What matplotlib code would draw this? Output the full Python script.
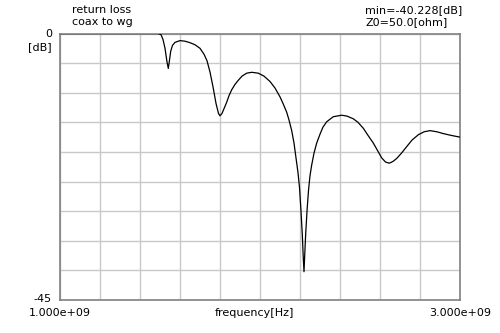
import matplotlib
matplotlib.use('Agg')
import matplotlib.pyplot as plt
import numpy as np

# Return loss data (frequency in GHz, value in dB)
freq_ghz = [1.000, 1.200, 1.400, 1.490, 1.505, 1.515, 1.525, 1.535, 1.5415, 1.5475,
            1.5535, 1.5625, 1.575, 1.600, 1.625, 1.650, 1.675, 1.700, 1.720, 1.735,
            1.750, 1.765, 1.780, 1.7925, 1.800, 1.810, 1.820, 1.8335, 1.845, 1.8585,
            1.875, 1.8915, 1.910, 1.9335, 1.9585, 1.9915, 2.020, 2.050, 2.075, 2.100,
            2.115, 2.1335, 2.145, 2.1585, 2.170, 2.180, 2.190, 2.1975, 2.205, 2.2115,
            2.2165, 2.220, 2.2235, 2.2285, 2.235, 2.2425, 2.250, 2.2585, 2.270, 2.2835,
            2.300, 2.315, 2.3335, 2.3665, 2.4085, 2.435, 2.4665, 2.490, 2.5165, 2.540,
            2.5665, 2.590, 2.6085, 2.6275, 2.6465, 2.665, 2.6835, 2.7075, 2.7335, 2.760,
            2.7915, 2.820, 2.850, 2.885, 2.9165, 2.955, 3.000]
rl_db = [0.0, 0.0, 0.0, 0.0, -0.2, -1.0, -2.5, -4.8, -5.9, -4.5,
         -3.0, -2.0, -1.5, -1.2, -1.3, -1.55, -1.9, -2.5, -3.5, -4.6,
         -6.5, -9.0, -11.8, -13.5, -13.9, -13.5, -12.7, -11.6, -10.5, -9.5,
         -8.6, -7.9, -7.2, -6.7, -6.55, -6.7, -7.2, -8.1, -9.2, -10.7,
         -11.8, -13.3, -14.6, -16.4, -18.5, -21.0, -23.5, -26.0, -30.0, -34.0,
         -38.0, -40.228, -37.5, -33.8, -30.0, -26.5, -24.0, -22.2, -20.2, -18.5,
         -17.0, -15.8, -14.9, -14.05, -13.8, -13.95, -14.4, -15.0, -16.0, -17.2,
         -18.5, -19.9, -21.0, -21.7, -21.9, -21.6, -21.1, -20.2, -19.1, -18.0,
         -17.1, -16.6, -16.4, -16.6, -16.9, -17.2, -17.5]

freq_hz = np.array(freq_ghz) * 1e9

W, H = 500, 333
fig = plt.figure(figsize=(W / 100, H / 100), dpi=100)
ax = fig.add_axes([60 / W, 1 - 300 / H, 400 / W, 266.5 / H])

ax.plot(freq_hz, rl_db, color='black', lw=0.9, zorder=3)

ax.set_xlim(1e9, 3e9)
ax.set_ylim(-45, 0)
ax.set_xticks(np.linspace(1e9, 3e9, 11))
ax.set_yticks(np.arange(-45, 1, 5))
ax.tick_params(length=0, labelbottom=False, labelleft=False)
ax.grid(True, color='#c8c8c8', lw=1.0)
ax.set_axisbelow(True)
for s in ax.spines.values():
    s.set_color('#808080')
    s.set_linewidth(1.2)

fs = 8
def px(x, y, s, **kw):
    fig.text(x / W, 1 - y / H, s, fontsize=fs, **kw)

px(72, 10, 'return loss', ha='left', va='center')
px(72, 22, 'coax to wg', ha='left', va='center')
px(365, 10, 'min=-40.228[dB]', ha='left', va='center')
px(365, 22, 'Z0=50.0[ohm]', ha='left', va='center')
px(52, 34, '0', ha='right', va='center')
px(52, 47, '[dB]', ha='right', va='center')
px(52, 299, '-45', ha='right', va='center')
px(60, 313, '1.000e+09', ha='center', va='center')
px(460, 313, '3.000e+09', ha='center', va='center')
px(254, 313, 'frequency[Hz]', ha='center', va='center')

fig.savefig('out.png', dpi=100)
